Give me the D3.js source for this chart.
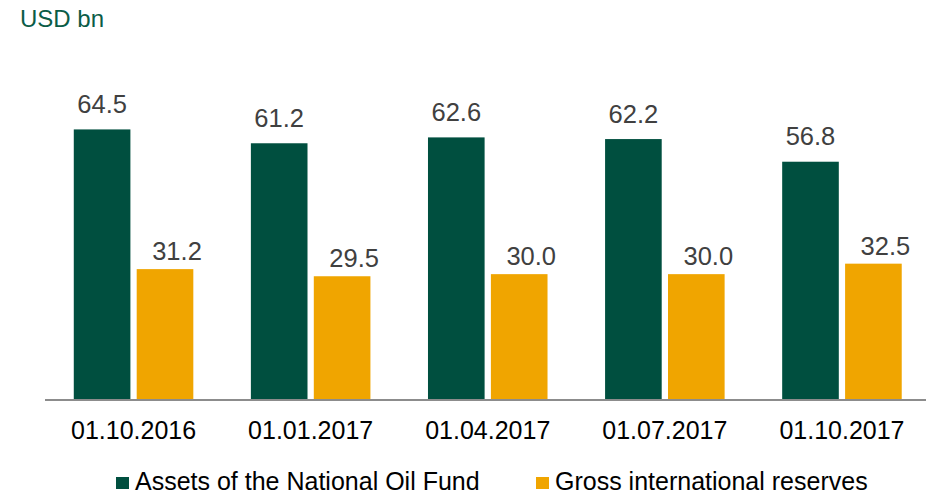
<!DOCTYPE html>
<html><head><meta charset="utf-8">
<script src="https://cdn.jsdelivr.net/npm/d3@7"></script>
<style>body{margin:0;background:#fff;}svg{display:block;font-family:"Liberation Sans",Arial,sans-serif;}</style>
</head><body>
<svg id="c" width="926" height="495"></svg>
<script>
const categories = ["01.10.2016","01.01.2017","01.04.2017","01.07.2017","01.10.2017"];
const oilFund = [64.5, 61.2, 62.6, 62.2, 56.8];
const reserves = [31.2, 29.5, 30.0, 30.0, 32.5];
const seriesNames = ["Assets of the National Oil Fund","Gross international reserves"];
const colors = ["#004f3f","#f0a500"];

const svg = d3.select("#c");
const x = d3.scaleBand().domain(categories).range([45, 930.5]).paddingInner(0.325).paddingOuter(0.1625);
const x1 = d3.scaleBand().domain([0,1]).range([0, x.bandwidth()]).paddingInner(0.1);
const y = d3.scaleLinear().domain([0, 70]).range([400, 400 - 70*4.195]);

svg.append("text").attr("x", 20).attr("y", 27).attr("font-size", 24).attr("fill", "#0b5c47").text("USD bn");

const series = [oilFund, reserves];
series.forEach((vals, s) => {
  const g = svg.append("g");
  g.selectAll("rect").data(vals).join("rect")
    .attr("x", (d,i) => x(categories[i]) + x1(s))
    .attr("y", d => y(d))
    .attr("width", x1.bandwidth())
    .attr("height", d => y(0) - y(d))
    .attr("fill", colors[s]);
  g.selectAll("text").data(vals).join("text")
    .attr("x", (d,i) => x(categories[i]) + x1(s) + x1.bandwidth()/2 + (s === 1 ? 12 : 0))
    .attr("y", d => y(d) - (s === 0 ? 16.5 : 9))
    .attr("text-anchor", "middle")
    .attr("font-size", 25.5)
    .attr("fill", "#404040")
    .text(d => d.toFixed(1));
});

const axis = svg.append("g").attr("transform", "translate(0,400)")
  .call(d3.axisBottom(x).tickSize(0).tickPadding(0));
axis.select(".domain").attr("stroke", "#8c8c8c").attr("stroke-width", 2).attr("d", "M45,0H926");
axis.selectAll(".tick text").attr("font-size", 25).attr("fill", "#000").attr("dy", 0).attr("y", 39)
  .attr("font-family", "Liberation Sans, Arial, sans-serif");

const legendX = [116, 536];
seriesNames.forEach((n, i) => {
  svg.append("rect").attr("x", legendX[i]).attr("y", 477).attr("width", 13).attr("height", 12).attr("fill", colors[i]);
  svg.append("text").attr("x", legendX[i] + 19).attr("y", 490).attr("font-size", 25).attr("fill", "#000").text(n);
});
</script>
</body></html>
